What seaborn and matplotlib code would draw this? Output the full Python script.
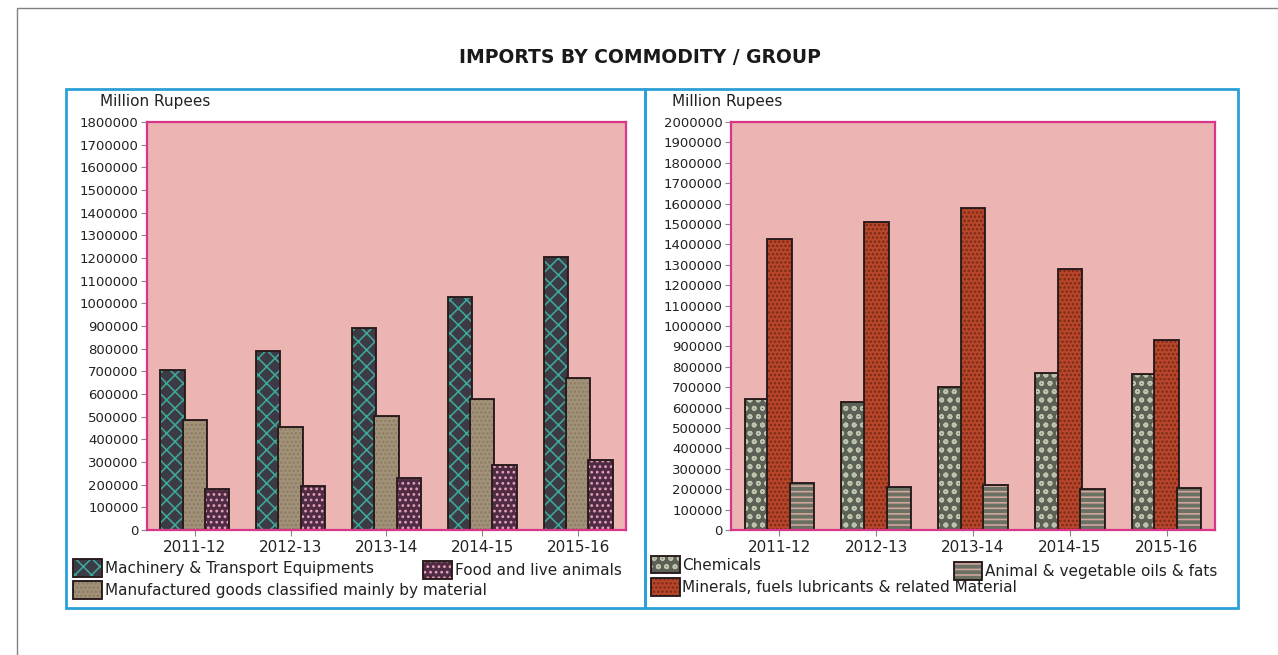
import numpy as np
import pandas as pd
import matplotlib
matplotlib.use("Agg")
import matplotlib.pyplot as plt
import matplotlib.patheffects as pe
import seaborn as sns
from matplotlib.patches import Rectangle

sns.set_theme(style="white")
plt.rcParams["font.family"] = ["DejaVu Sans"]
plt.rcParams["hatch.linewidth"] = 1.2

years = ["2011-12", "2012-13", "2013-14", "2014-15", "2015-16"]

# left panel
left_groups = ["Machinery & Transport Equipments",
               "Manufactured goods classified mainly by material",
               "Food and live animals"]
machinery = [700000, 785000, 888000, 1022000, 1198000]
manufactured = [483000, 448000, 497000, 575000, 668000]
food = [178000, 190000, 223000, 282000, 305000]

# right panel
right_groups = ["Chemicals",
                "Minerals, fuels lubricants & related Material",
                "Animal & vegetable oils & fats"]
chemicals = [637000, 624000, 694000, 764000, 760000]
minerals = [1423000, 1505000, 1572000, 1275000, 927000]
animal_oils = [227000, 205000, 214000, 196000, 203000]

left_ticks = list(range(0, 1800001, 100000))
right_ticks = list(range(0, 2000001, 100000))

left_df = pd.DataFrame({
    "Year": years * 3,
    "Group": [g for g in left_groups for _ in years],
    "Value": machinery + manufactured + food,
})
right_df = pd.DataFrame({
    "Year": years * 3,
    "Group": [g for g in right_groups for _ in years],
    "Value": chemicals + minerals + animal_oils,
})

# (face, hatch, hatch colour) - rough stand-ins for the textured fills
left_style = [("#3b3a45", "xx", "#3fa597"),
              ("#a3927a", "....", "#8c7c64"),
              ("#4f2c44", "...", "#e6a2ba")]
right_style = [("#5c6156", "oo", "#bfc3ae"),
               ("#b8462a", "....", "#7a2a18"),
               ("#6a7062", "---", "#d0a69c")]

PINK = "#ecb4b3"
MAGENTA = "#d9368a"
BLUE = "#2a9fd8"
EDGE = "#2a1c1c"

fig = plt.figure(figsize=(12.78, 6.55), dpi=100)
ax_l = fig.add_axes([0.1150, 0.1908, 0.3748, 0.6229])
ax_r = fig.add_axes([0.5720, 0.1908, 0.3787, 0.6229])


def draw_panel(ax, df, groups, styles, ticks):
    pal = [s[0] for s in styles]
    sns.barplot(data=df, x="Year", y="Value", hue="Group", hue_order=groups,
                order=years, palette=pal, width=0.70, gap=0, ax=ax,
                saturation=1, errorbar=None, legend=False)
    for cont, (face, hatch, hcol) in zip(ax.containers, styles):
        for p in cont.patches:
            p.set_facecolor(face)
            # hatch takes the edge colour, so outline comes from a stroke effect
            p.set_edgecolor(hcol)
            p.set_linewidth(0)
            p.set_hatch(hatch)
            p.set_path_effects([pe.Stroke(linewidth=2.8, foreground=EDGE),
                                pe.Normal()])
    ax.set_facecolor(PINK)
    for s in ax.spines.values():
        s.set_color(MAGENTA)
        s.set_linewidth(1.6)
        s.set_zorder(3)
    ax.set_ylim(0, ticks[-1])
    ax.set_xlim(-0.5, len(years) - 0.5)
    ax.set_yticks(ticks)
    ax.set_yticklabels([str(t) for t in ticks], fontsize=9.5, color="#222222")
    ax.tick_params(axis="x", labelsize=11, labelcolor="#222222", length=4,
                   width=0.8, direction="out", bottom=True, pad=3,
                   color="#888888")
    ax.tick_params(axis="y", length=4, width=0.8, direction="out", left=True,
                   color="#888888", pad=2)
    ax.set_xlabel("")
    ax.set_ylabel("")
    ax.grid(False)
    return [c.patches[0] for c in ax.containers]


h_left = draw_panel(ax_l, left_df, left_groups, left_style, left_ticks)
h_right = draw_panel(ax_r, right_df, right_groups, right_style, right_ticks)

leg_kw = dict(loc="upper left", frameon=False, fontsize=11, borderpad=0,
              borderaxespad=0, handlelength=1.75, handleheight=1.2,
              handletextpad=0.25, labelspacing=0.4, labelcolor="#222222")

fig.legend([h_left[0], h_left[1]], [left_groups[0], left_groups[1]],
           bbox_to_anchor=(0.0580, 0.1450), **leg_kw)
fig.legend([h_left[2]], [left_groups[2]],
           bbox_to_anchor=(0.332, 0.1420), **leg_kw)
fig.legend([h_right[0], h_right[1]], [right_groups[0], right_groups[1]],
           bbox_to_anchor=(0.5100, 0.1500), **leg_kw)
fig.legend([h_right[2]], [right_groups[2]],
           bbox_to_anchor=(0.7470, 0.1405), **leg_kw)

fig.text(0.5008, 0.9115, "IMPORTS BY COMMODITY / GROUP", ha="center",
         va="center", fontsize=13.5, fontweight="bold", color="#1a1a1a")
fig.text(0.0782, 0.8458, "Million Rupees", ha="left", va="center",
         fontsize=11, color="#222222")
fig.text(0.5258, 0.8458, "Million Rupees", ha="left", va="center",
         fontsize=11, color="#222222")

# panel frames and page border
fig.patches.append(Rectangle((0.0516, 0.0718), 0.4531, 0.7923, fill=False,
                             edgecolor=BLUE, linewidth=2,
                             transform=fig.transFigure, figure=fig))
fig.patches.append(Rectangle((0.5047, 0.0718), 0.4640, 0.7923, fill=False,
                             edgecolor=BLUE, linewidth=2,
                             transform=fig.transFigure, figure=fig))
fig.patches.append(Rectangle((0.0133, -0.1), 1.2, 1.0878, fill=False,
                             edgecolor="#808080", linewidth=1,
                             transform=fig.transFigure, figure=fig))

fig.savefig("out.png", dpi=100, facecolor="white")
